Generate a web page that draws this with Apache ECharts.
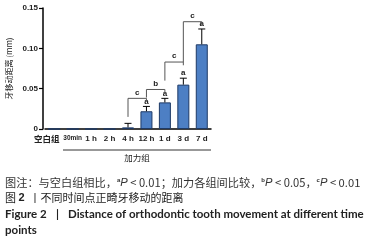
<!DOCTYPE html>
<html>
<head>
<meta charset="utf-8">
<script src="https://cdn.jsdelivr.net/npm/echarts@6/dist/echarts.min.js"></script>
<style>
  html, body { margin: 0; padding: 0; background: #fff; }
  #main { width: 375px; height: 244px; }
</style>
</head>
<body>
<div id="main"></div>
<script>
// 类别和数据
const categories = ['空白组', '30min', '1 h', '2 h', '4 h', '12 h', '1 d', '3 d', '7 d']
const distance = [0, 0, 0, 0, 0.002, 0.022, 0.033, 0.055, 0.105]
const errors = [0, 0, 0, 0, 0.005, 0.006, 0.005, 0.008, 0.019]
const sigLetters = ['', '', '', '', '', 'a', 'a', 'a', 'a']
// 组间比较: 起点, 终点, 横线高度, 左腿底, 右腿底, 字母
const brackets = [
  [4, 5, 0.038, 0.015, 0.035, 'c'],
  [5, 6, 0.049, 0.039, 0.044, 'b'],
  [6, 7, 0.083, 0.060, 0.079, 'c'],
  [7, 8, 0.133, 0.083, 0.128, 'c']
]
const yTicks = [0, 0.05, 0.10, 0.15]

const chart = echarts.init(document.getElementById('main'))

const labelFont = '"Liberation Sans", "Noto Sans CJK SC", sans-serif'
const cjkFont = '"Noto Sans CJK SC", sans-serif'
const capFont = 'bold 11.5px Lato, "Liberation Sans", sans-serif'

chart.setOption({
  animation: false,
  grid: { left: 45, top: 8, width: 166, height: 121 },
  xAxis: {
    type: 'category',
    data: categories,
    axisLine: { lineStyle: { color: '#000', width: 1.5 } },
    axisTick: { alignWithLabel: true, length: 4, lineStyle: { color: '#000', width: 1.2 } },
    axisLabel: {
      interval: 0,
      margin: 6,
      color: '#222',
      fontFamily: labelFont,
      fontSize: 8,
      fontWeight: 'bold',
      formatter: (v) => v === '30min' ? '{s|30min}' : (v === '空白组' ? '{c|空白组}' : v),
      rich: {
        s: { fontSize: 6.5, fontWeight: 'bold', fontFamily: labelFont, color: '#222' },
        c: { fontSize: 8.5, fontFamily: cjkFont, color: '#222', padding: [0, 15, 0, 0] }
      }
    }
  },
  yAxis: {
    type: 'value',
    min: 0,
    max: 0.15,
    interval: 0.05,
    offset: 2,
    name: '牙移动距离 (mm)',
    nameLocation: 'middle',
    nameGap: 30,
    nameTextStyle: { fontSize: 8, fontFamily: cjkFont, color: '#222' },
    splitLine: { show: false },
    axisLine: { show: true, lineStyle: { color: '#000', width: 1.5 } },
    axisTick: { show: true, length: 4, lineStyle: { color: '#000', width: 1.2 } },
    axisLabel: {
      color: '#222',
      fontSize: 8,
      fontWeight: 'bold',
      fontFamily: labelFont,
      margin: 5,
      formatter: (v) => yTicks.indexOf(v) === 0 ? '0' : v.toFixed(2)
    }
  },
  series: [
    {
      type: 'bar',
      data: distance,
      barWidth: 12,
      itemStyle: { color: '#4d7fc4', borderColor: '#1e3a66', borderWidth: 1 }
    },
    {
      // 误差线 + 显著性字母
      type: 'custom',
      data: distance.map((v, i) => [i, v, errors[i], sigLetters[i]]),
      z: 5,
      renderItem: (params, api) => {
        const idx = api.value(0)
        const err = api.value(2)
        if (!err) return null
        const base = api.coord([idx, api.value(1)])
        const top = api.coord([idx, api.value(1) + err])
        const children = [
          { type: 'line', shape: { x1: base[0], y1: base[1], x2: top[0], y2: top[1] }, style: { stroke: '#000', lineWidth: 1 } },
          { type: 'line', shape: { x1: top[0] - 3.5, y1: top[1], x2: top[0] + 3.5, y2: top[1] }, style: { stroke: '#000', lineWidth: 1 } }
        ]
        const letter = sigLetters[idx]
        if (letter) {
          children.push({
            type: 'text',
            style: { text: letter, x: top[0], y: top[1] - 1, align: 'center', verticalAlign: 'bottom', font: 'bold 8px "Liberation Sans", sans-serif', fill: '#222' }
          })
        }
        return { type: 'group', children }
      }
    },
    {
      // 组间比较括号
      type: 'custom',
      data: brackets,
      z: 5,
      renderItem: (params, api) => {
        const b = brackets[params.dataIndex]
        const p1 = api.coord([b[0], b[2]])
        const p2 = api.coord([b[1], b[2]])
        const l = api.coord([b[0], b[3]])
        const r = api.coord([b[1], b[4]])
        const st = { stroke: '#555', lineWidth: 1, fill: null }
        return {
          type: 'group',
          children: [
            { type: 'polyline', shape: { points: [[l[0], l[1]], p1, p2, [r[0], r[1]]] }, style: st },
            { type: 'text', style: { text: b[5], x: (p1[0] + p2[0]) / 2, y: p1[1] - 2, align: 'center', verticalAlign: 'bottom', font: 'bold 8px "Liberation Sans", sans-serif', fill: '#222' } }
          ]
        }
      }
    }
  ],
  graphic: [
    { type: 'line', shape: { x1: 63, y1: 150, x2: 211, y2: 150 }, style: { stroke: '#333', lineWidth: 1 } },
    { type: 'text', style: { text: '加力组', x: 137, y: 158, align: 'center', verticalAlign: 'middle', font: '8.5px "Noto Sans CJK SC", sans-serif', fill: '#222' } },
    {
      type: 'text',
      left: 5, top: 177,
      style: {
        text: '图注：与空白组相比，{s|a}{i|P} < 0.01；加力各组间比较，{s|b}{i|P} < 0.05，{s|c}{i|P} < 0.01',
        font: '11.2px "Noto Sans CJK SC", sans-serif',
        fill: '#333',
        rich: {
          s: { fontSize: 6, fontWeight: 'bold', fontFamily: labelFont, verticalAlign: 'top', fill: '#333' },
          i: { fontSize: 11.2, fontStyle: 'italic', fontFamily: labelFont, fill: '#333' }
        }
      }
    },
    {
      type: 'text',
      left: 5, top: 192,
      style: {
        text: '图 {b|2}  丨不同时间点正畸牙移动的距离',
        font: '11px "Noto Sans CJK SC", sans-serif',
        fill: '#222',
        rich: { b: { fontSize: 11, fontWeight: 'bold', fontFamily: labelFont, fill: '#222' } }
      }
    },
    {
      type: 'text',
      left: 5, top: 208,
      style: { text: 'Figure 2', font: capFont, fill: '#222' }
    },
    {
      type: 'text',
      left: 56, top: 208,
      style: { text: '|', font: capFont, fill: '#222' }
    },
    {
      type: 'text',
      left: 68, top: 208,
      style: { text: 'Distance of orthodontic tooth movement at different time', font: capFont, fill: '#222' }
    },
    {
      type: 'text',
      left: 5, top: 224,
      style: { text: 'points', font: capFont, fill: '#222' }
    }
  ]
})
</script>
</body>
</html>
